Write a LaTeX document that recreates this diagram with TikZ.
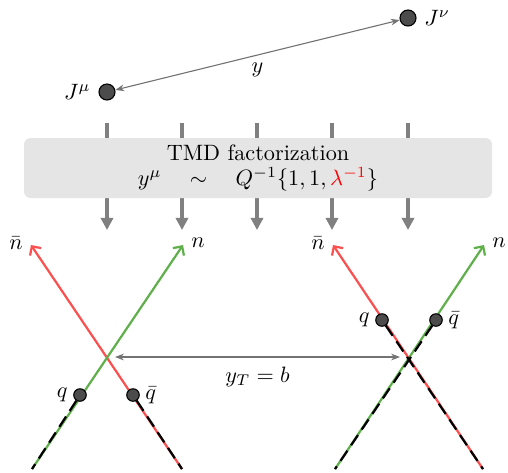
\documentclass[tikz,border=0pt]{standalone}
\usetikzlibrary{arrows.meta}
\definecolor{myred}{RGB}{250,80,80}
\definecolor{mygreen}{RGB}{95,175,75}
\begin{document}
\begin{tikzpicture}[x=0.45pt,y=-0.45pt,
  dot/.style={circle,draw=black,fill=black!70,inner sep=0pt,minimum size=16*0.45pt,line width=0.5pt},
  sdot/.style={circle,draw=black,fill=black!70,inner sep=0pt,minimum size=12.5*0.45pt,line width=0.5pt},
  grayarr/.style={draw=black!55,line width=0.5pt,{Stealth[length=4pt]}-{Stealth[length=4pt]}},
  flow/.style={draw=black!50,line width=1.5pt,-{Triangle[length=5.5pt,width=5.5pt]}},
  redl/.style={draw=myred,line width=1pt,-{Straight Barb[length=3pt,width=6pt]}},
  greenl/.style={draw=mygreen,line width=1pt,-{Straight Barb[length=3pt,width=6pt]}},
  dashl/.style={draw=black,line width=1pt,dash pattern=on 5.5pt off 3pt},
  box/.style={rounded corners=3pt,fill=black!10,draw=none}]
\useasboundingbox (0,0) rectangle (508,472);
% currents
\node[dot] (Jnu) at (408,18) {};
\node[dot] (Jmu) at (107,92) {};
\node[right=0pt] at (Jnu.east) {$J^\nu$};
\node[left=0pt] at (Jmu.west) {$J^\mu$};
\draw[grayarr] (Jmu) -- (Jnu) node[pos=0.5,below=0pt] {$y$};
% flow arrows
\foreach \x/\n in {107/a,182/b,257/c,332/d,408/e}{
  \coordinate (t\n) at (\x,123);
  \coordinate (b\n) at (\x,230);
  \draw[flow] (t\n) -- (b\n);
}
\node[box,minimum width=468*0.45pt,minimum height=60*0.45pt] (F) at (258,168) {};
\node[align=center,inner sep=0pt] (Ft) at (F.center) {TMD factorization\\[-1pt] $y^\mu\quad\sim\quad Q^{-1}\{1,1,\textcolor{red}{\lambda^{-1}}\}$};
% left cross
\coordinate (Lrb) at (182,469); \coordinate (Lrt) at (31,245);
\coordinate (Lgb) at (32,469);  \coordinate (Lgt) at (183,245);
\draw[redl] (Lrb) -- (Lrt);
\draw[greenl] (Lgb) -- (Lgt);
\node[sdot] (Lq) at (80,395) {};
\node[sdot] (Lqb) at (133,395) {};
\draw[dashl] (Lq) -- (Lgb);
\draw[dashl] (Lqb) -- (Lrb);
\node[left=-1pt] at (Lq.west) {$q$};
\node[right=-1pt] at (Lqb.east) {$\bar q$};
\node at (16,243) {$\bar n$};
\node at (198,243) {$n$};
% right cross
\coordinate (Rrb) at (483,469); \coordinate (Rrt) at (333,245);
\coordinate (Rgb) at (335,469); \coordinate (Rgt) at (484,245);
\draw[redl] (Rrb) -- (Rrt);
\draw[greenl] (Rgb) -- (Rgt);
\node[sdot] (Rq) at (382,320) {};
\node[sdot] (Rqb) at (436,320) {};
\draw[dashl] (Rq) -- (Rrb);
\draw[dashl] (Rqb) -- (Rgb);
\node[left=-1pt] at (Rq.west) {$q$};
\node[right=-1pt] at (Rqb.east) {$\bar q$};
\node at (318,243) {$\bar n$};
\node at (499,243) {$n$};
% transverse separation
\coordinate (XL) at (115,357);
\coordinate (XR) at (400,357);
\draw[grayarr] (XL) -- (XR) node[pos=0.5,below=1pt] {$y_T=b$};
\end{tikzpicture}
\end{document}
